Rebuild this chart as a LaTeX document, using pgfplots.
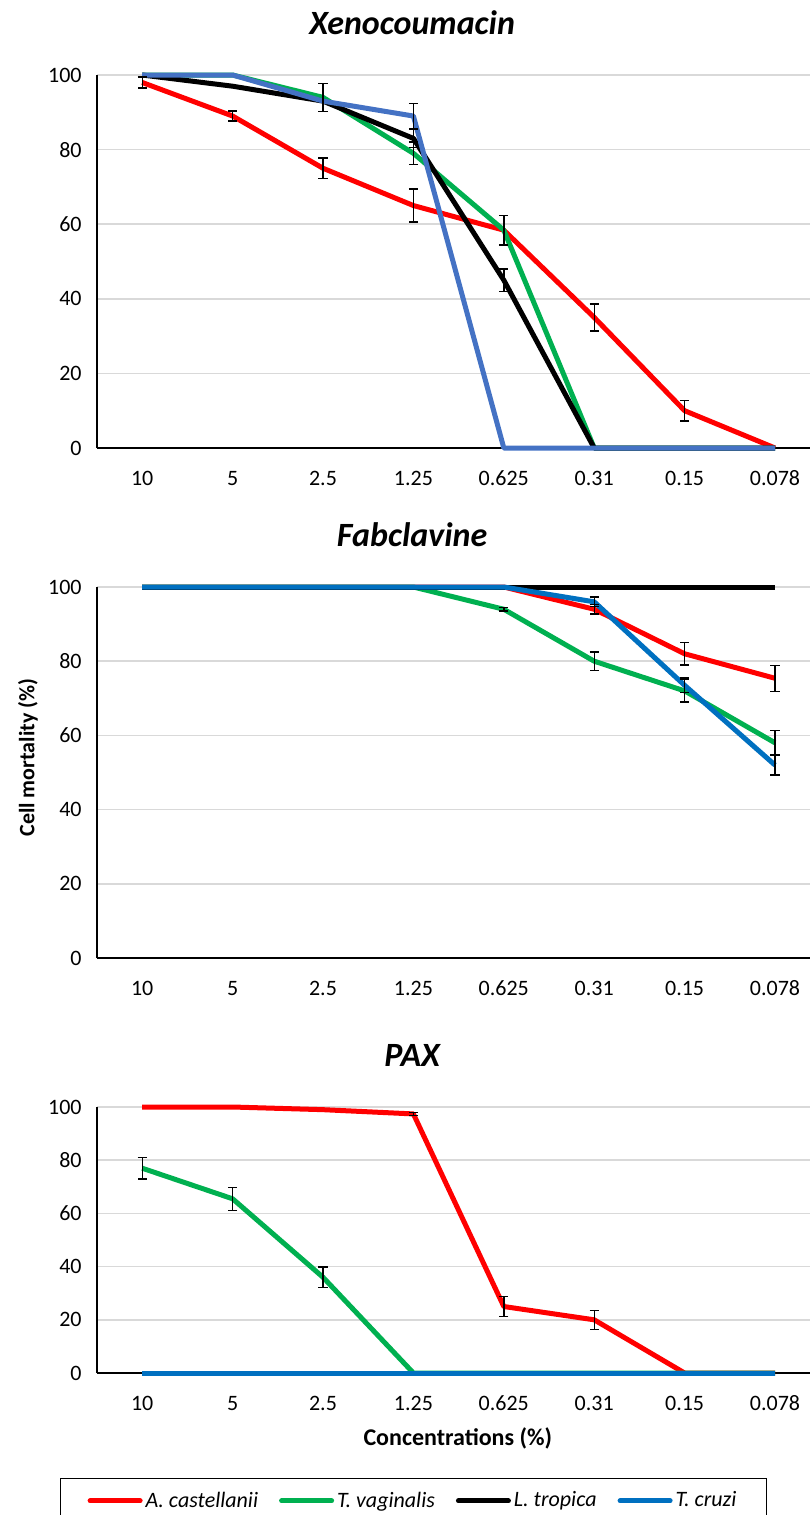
\documentclass[border=0pt]{standalone}
\usepackage{fontspec}
\setmainfont{Carlito}
\usepackage{pgfplots}
\pgfplotsset{compat=1.18}

\definecolor{cRed}{HTML}{FF0000}
\definecolor{cGreen}{HTML}{00B050}
\definecolor{cBlueA}{HTML}{4472C4}
\definecolor{cBlue}{HTML}{0070C0}
\definecolor{cGrid}{HTML}{D9D9D9}

\pgfplotsset{
  panel/.style={
    scale only axis, width=356.5pt, anchor=north west, clip=false,
    xmin=-0.5, xmax=7.387, ymin=0, ymax=100,
    xtick={0,...,7}, xticklabels={10,5,2.5,1.25,0.625,0.31,0.15,0.078},
    ytick={0,20,...,100},
    axis lines*=left, axis line style={black, line width=0.8pt},
    major tick length=0pt,
    ymajorgrids, grid style={cGrid, line width=0.8pt},
    /pgf/number format/assume math mode=true,
    tick label style={font=\fontsize{11}{13}\selectfont, inner sep=0pt},
    yticklabel style={xshift=-7.5pt},
    xticklabel style={yshift=-11pt, text height=7.5pt},
    title style={at={(0.442,1)}, anchor=center, yshift=20pt,
      font=\bfseries\itshape\fontsize{17}{20}\selectfont},
    every axis plot/.append style={line width=2.5pt, line join=round},
  },
  ebar/.style={draw=none, mark=none, forget plot,
    error bars/.cd, y dir=both, y explicit,
    error bar style={black, line width=0.7pt},
    error mark options={rotate=90, mark size=2.3pt, black, line width=0.7pt}},
}

\begin{document}
\begin{tikzpicture}
\useasboundingbox (0,0) rectangle (405pt,-757.5pt);

% Xenocoumacin
\begin{axis}[panel, at={(48.5pt,-37.5pt)}, height=186.5pt, title={Xenocoumacin}]
\addplot[cRed] coordinates {(0,98) (1,89) (2,75) (3,65) (4,58.4) (5,35) (6,10) (7,0)};
\addplot[cGreen] coordinates {(0,100) (1,100) (2,94) (3,79) (4,58.4) (5,0) (6,0) (7,0)};
\addplot[black] coordinates {(0,100) (1,97) (2,93) (3,83) (4,45) (5,0) (6,0) (7,0)};
\addplot[cBlueA] coordinates {(0,100) (1,100) (2,93) (3,89) (4,0) (5,0) (6,0) (7,0)};
\addplot[ebar] coordinates {(0,98) +- (0,1.5) (1,89) +- (0,1.3) (2,75) +- (0,2.7) (3,65) +- (0,4.4) (5,35) +- (0,3.6) (6,10) +- (0,2.8)};
\addplot[ebar] coordinates {(2,94) +- (0,3.8) (3,79) +- (0,3) (4,58.4) +- (0,4)};
\addplot[ebar] coordinates {(3,83) +- (0,2.5) (4,45) +- (0,3)};
\addplot[ebar] coordinates {(3,89) +- (0,3.3)};
\end{axis}

% Fabclavine
\begin{axis}[panel, at={(48.5pt,-293.5pt)}, height=185.5pt, title={Fabclavine},
  ylabel={Cell mortality (\%)},
  ylabel style={at={(0,0.54)}, anchor=center, yshift=34.5pt,
    font=\bfseries\fontsize{11}{13}\selectfont}]
\addplot[cRed] coordinates {(0,100) (1,100) (2,100) (3,100) (4,100) (5,94) (6,82) (7,75.4)};
\addplot[cGreen] coordinates {(0,100) (1,100) (2,100) (3,100) (4,94) (5,80) (6,72) (7,58)};
\addplot[black] coordinates {(0,100) (1,100) (2,100) (3,100) (4,100) (5,100) (6,100) (7,100)};
\addplot[cBlue] coordinates {(0,100) (1,100) (2,100) (3,100) (4,100) (5,96) (6,73.5) (7,52)};
\addplot[ebar] coordinates {(5,94) +- (0,1.3) (6,82) +- (0,3) (7,75.4) +- (0,3.5)};
\addplot[ebar] coordinates {(4,94) +- (0,0.5) (5,80) +- (0,2.5) (6,72) +- (0,3) (7,58) +- (0,3.4)};
\addplot[ebar] coordinates {(5,96) +- (0,1.3) (6,73.5) +- (0,2) (7,52) +- (0,2.7)};
\end{axis}

% PAX
\begin{axis}[panel, at={(48.5pt,-553.5pt)}, height=133pt, title={PAX},
  xlabel={Concentrations (\%)},
  xlabel style={at={(0.506,0)}, anchor=center, yshift=-32.5pt,
    font=\bfseries\fontsize{12}{14}\selectfont},
  legend columns=4,
  legend style={at={(-0.052,-0.395)}, anchor=north west, draw=black, line width=0.7pt,
    font=\itshape\fontsize{11}{13}\selectfont, inner xsep=13.5pt, inner ysep=5pt,
    /tikz/every even column/.append style={column sep=9pt},
    nodes={inner sep=1.5pt}},
  legend image code/.code={\draw[#1, line cap=round] (0pt,0pt) -- (25pt,0pt);}]
\addplot[cRed] coordinates {(0,100) (1,100) (2,99) (3,97.4) (4,25) (5,20) (6,0) (7,0)};
\addplot[cGreen] coordinates {(0,77) (1,65.5) (2,36) (3,0) (4,0) (5,0) (6,0) (7,0)};
\addplot[black] coordinates {(0,0) (1,0) (2,0) (3,0) (4,0) (5,0) (6,0) (7,0)};
\addplot[cBlue] coordinates {(0,0) (1,0) (2,0) (3,0) (4,0) (5,0) (6,0) (7,0)};
\addplot[ebar] coordinates {(3,97.4) +- (0,0.5) (4,25) +- (0,3.8) (5,20) +- (0,3.6)};
\addplot[ebar] coordinates {(0,77) +- (0,4) (1,65.5) +- (0,4.3) (2,36) +- (0,3.9)};
\legend{A. castellanii, T. vaginalis, L. tropica, T. cruzi}
\end{axis}
\end{tikzpicture}
\end{document}
